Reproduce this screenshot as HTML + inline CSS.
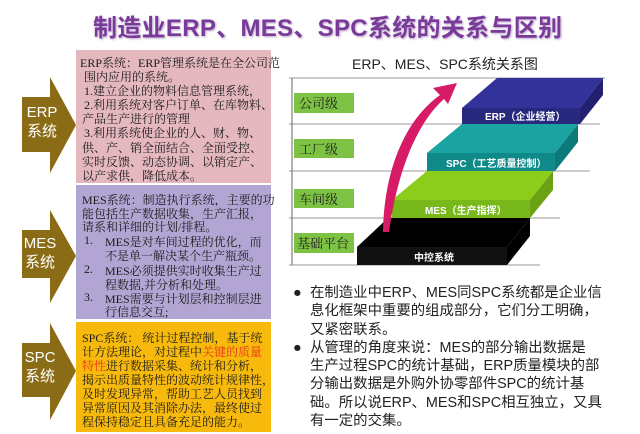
<!DOCTYPE html>
<html><head><meta charset="utf-8"><style>
body{margin:0;width:640px;height:434px;background:#fff;position:relative;overflow:hidden;font-family:"Liberation Sans","Noto Sans CJK SC",sans-serif}
.t{position:absolute;white-space:nowrap}
.box{position:absolute;left:76px;width:195px}
.l{position:absolute;white-space:nowrap;font-family:"Liberation Serif","Noto Serif CJK SC",serif;font-size:12px;color:#1a1a1a}
.ar{position:absolute;color:#fff;font-size:15px;text-align:center;line-height:19px}
</style></head><body>
<div class="t" style="left:93px;top:8px;font-size:24px;font-weight:bold;color:#7a3a9a;text-shadow:1px 1px 2px #b9a6c8;letter-spacing:0.3px">制造业ERP、MES、SPC系统的关系与区别</div>

<svg style="position:absolute;left:0;top:0" width="640" height="434">
<polygon points="22,97 50,97 50,77 76,125 50,173 50,152 22,152" fill="#8b6c16"/>
<polygon points="22,230 50,230 50,210 76,256 50,303 50,278 22,278" fill="#8b6c16"/>
<polygon points="22,343 50,343 50,323 76,371 50,420 50,397 22,397" fill="#8b6c16"/>
</svg>
<div class="ar" style="left:22px;top:103px;width:40px">ERP<br>系统</div>
<div class="ar" style="left:20px;top:234px;width:40px">MES<br>系统</div>
<div class="ar" style="left:20px;top:348px;width:40px">SPC<br>系统</div>

<div class="box" style="top:50px;height:133px;background:#e5b7bf"></div>
<div class="box" style="top:185px;height:134px;background:#b3a5d3"></div>
<div class="box" style="top:322px;height:110px;background:#f6b90c"></div>

<div class="l" style="left:80px;top:54px">ERP系统：ERP管理系统是在全公司范</div>
<div class="l" style="left:84px;top:68px">围内应用的系统。</div>
<div class="l" style="left:84px;top:82px"> 1.建立企业的物料信息管理系统，</div>
<div class="l" style="left:84px;top:96px"> 2.利用系统对客户订单、在库物料、</div>
<div class="l" style="left:82px;top:110px">产品生产进行的管理</div>
<div class="l" style="left:84px;top:124px"> 3.利用系统使企业的人、财、物、</div>
<div class="l" style="left:82px;top:139px">供、产、销全面结合、全面受控、</div>
<div class="l" style="left:82px;top:153px">实时反馈、动态协调、以销定产、</div>
<div class="l" style="left:82px;top:167px">以产求供，降低成本。</div>

<div class="l" style="left:82px;top:191px">MES系统：制造执行系统，主要的功</div>
<div class="l" style="left:82px;top:205px">能包括生产数据收集，生产汇报，</div>
<div class="l" style="left:82px;top:218px">请系和详细的计划/排程。</div>
<div class="l" style="left:84px;top:233px">1.</div><div class="l" style="left:105px;top:233px">MES是对车间过程的优化，而</div>
<div class="l" style="left:105px;top:247px">不是单一解决某个生产瓶颈。</div>
<div class="l" style="left:84px;top:262px">2.</div><div class="l" style="left:105px;top:262px">MES必须提供实时收集生产过</div>
<div class="l" style="left:105px;top:276px">程数据,并分析和处理。</div>
<div class="l" style="left:84px;top:290px">3.</div><div class="l" style="left:105px;top:290px">MES需要与计划层和控制层进</div>
<div class="l" style="left:105px;top:303px">行信息交互;</div>

<div class="l" style="left:82px;top:329px">SPC系统： 统计过程控制，基于统</div>
<div class="l" style="left:82px;top:343px">计方法理论，对过程中<span style="color:#e8331a">关键的质量</span></div>
<div class="l" style="left:82px;top:357px"><span style="color:#e8331a">特性</span>进行数据采集、统计和分析，</div>
<div class="l" style="left:82px;top:371px">揭示出质量特性的波动统计规律性，</div>
<div class="l" style="left:82px;top:385px">及时发现异常，帮助工艺人员找到</div>
<div class="l" style="left:82px;top:399px">异常原因及其消除办法，最终使过</div>
<div class="l" style="left:82px;top:413px">程保持稳定且具备充足的能力。</div>

<div class="t" style="left:352px;top:54px;font-size:14px;color:#222">ERP、MES、SPC系统关系图</div>
<svg style="position:absolute;left:0;top:0" width="640" height="434">
<g stroke="#999" stroke-width="1">
<line x1="289" y1="78" x2="605" y2="78"/><line x1="289" y1="124" x2="600" y2="124"/>
<line x1="289" y1="171" x2="590" y2="171"/><line x1="289" y1="218" x2="560" y2="218"/>
<line x1="289" y1="265" x2="540" y2="265"/>
<line x1="292" y1="78" x2="292" y2="265" stroke="#666"/>
</g>
<g fill="#7dc242">
<rect x="294" y="93" width="60" height="20"/><rect x="294" y="139" width="60" height="19"/>
<rect x="294" y="189" width="60" height="19"/><rect x="294" y="233" width="60" height="20"/>
</g>
<g font-family="Liberation Serif,Noto Serif CJK SC,serif" font-size="13" fill="#222">
<text x="299" y="108">公司级</text><text x="299" y="154">工厂级</text>
<text x="299" y="204">车间级</text><text x="297" y="248">基础平台</text>
</g>
<polygon points="357,247 388,218 530,218 507,247" fill="#000"/>
<rect x="357" y="247" width="150" height="18" fill="#111"/>
<polygon points="507,247 530,218 530,236 507,265" fill="#000"/>
<polygon points="392,200 427,171 553,171 530,200" fill="#8ccc1a"/>
<rect x="392" y="200" width="138" height="18" fill="#78b81a"/>
<polygon points="530,200 553,171 553,190 530,218" fill="#6aa214"/>
<polygon points="427,153 462,124 578,124 555,153" fill="#1aa3a0"/>
<rect x="427" y="153" width="128" height="18" fill="#0f8a88"/>
<polygon points="555,153 578,124 578,142 555,171" fill="#0c7a78"/>
<polygon points="462,108 497,78 603,78 580,108" fill="#33329a"/>
<rect x="462" y="108" width="118" height="16" fill="#28287e"/>
<polygon points="580,108 603,78 603,95 580,124" fill="#222070"/>
<g font-weight="bold" fill="#fff" font-size="10" font-family="Liberation Sans,Noto Sans CJK SC,sans-serif">
<text x="485" y="120">ERP（企业经营）</text>
<text x="446" y="167">SPC（工艺质量控制）</text>
<text x="425" y="214">MES（生产指挥）</text>
<text x="414" y="261">中控系统</text>
</g>
<path d="M383,232 C384,170 405,120 440,95 L433,88 L457,83 L448,104 L444,99 C418,122 398,168 389,232 Z" fill="#d81b66"/>
</svg>

<div class="t" style="left:293px;top:284px;font-size:14.4px;line-height:18.3px;color:#222">●<br><br><br>●</div>
<div class="t" style="left:310px;top:284px;font-size:14.4px;line-height:18.3px;color:#222">在制造业中ERP、MES同SPC系统都是企业信<br>息化框架中重要的组成部分，它们分工明确，<br>又紧密联系。<br>从管理的角度来说：MES的部分输出数据是<br>生产过程SPC的统计基础，ERP质量模块的部<br>分输出数据是外购外协零部件SPC的统计基<br>础。所以说ERP、MES和SPC相互独立，又具<br>有一定的交集。</div>
</body></html>
